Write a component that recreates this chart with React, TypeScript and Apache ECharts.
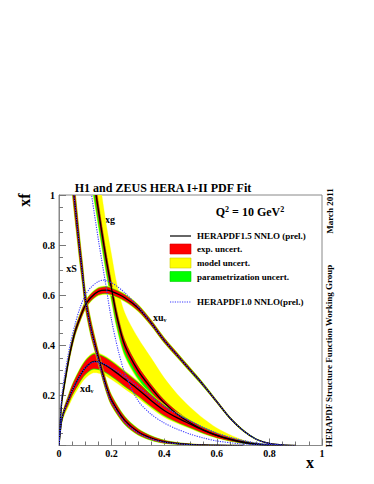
import React, { useEffect, useRef } from "react";
import * as echarts from "echarts";

// ---------------- data ----------------
// xu_v
const X_UV = [0, 0.01, 0.02, 0.04, 0.06, 0.08, 0.1, 0.12, 0.15, 0.18, 0.2, 0.25, 0.3, 0.35, 0.4, 0.45, 0.5, 0.55, 0.6, 0.65, 0.7, 0.75, 0.8, 0.85, 0.9];
const UV_CEN = [0, 0.17, 0.24, 0.36, 0.45, 0.51, 0.56, 0.59, 0.615, 0.62, 0.615, 0.59, 0.55, 0.49, 0.42, 0.36, 0.3, 0.24, 0.175, 0.11, 0.06, 0.025, 0.008, 0.002, 0];
const UV_EXP = [0, 0.008, 0.01, 0.012, 0.012, 0.012, 0.012, 0.012, 0.012, 0.012, 0.012, 0.011, 0.01, 0.009, 0.008, 0.007, 0.006, 0.005, 0.004, 0.003, 0.002, 0.001, 0.001, 0, 0];
const UV_PAR = [0, 0.01, 0.012, 0.014, 0.014, 0.014, 0.014, 0.014, 0.014, 0.014, 0.014, 0.013, 0.012, 0.011, 0.01, 0.009, 0.008, 0.007, 0.005, 0.004, 0.003, 0.002, 0.001, 0, 0];
const UV_MOD = [0, 0.012, 0.015, 0.017, 0.017, 0.017, 0.017, 0.017, 0.017, 0.017, 0.017, 0.016, 0.015, 0.013, 0.012, 0.011, 0.01, 0.008, 0.006, 0.005, 0.004, 0.002, 0.001, 0, 0];

// xd_v
const X_DV = [0, 0.01, 0.02, 0.035, 0.05, 0.075, 0.1, 0.13, 0.16, 0.2, 0.25, 0.3, 0.35, 0.4, 0.45, 0.5, 0.55, 0.6, 0.65, 0.7, 0.75, 0.8, 0.85];
const DV_CEN = [0, 0.1, 0.14, 0.18, 0.22, 0.27, 0.31, 0.335, 0.33, 0.305, 0.265, 0.225, 0.18, 0.14, 0.11, 0.085, 0.06, 0.04, 0.025, 0.014, 0.006, 0.002, 0];
const DV_EXP = [0, 0.008, 0.011, 0.015, 0.018, 0.022, 0.025, 0.028, 0.028, 0.028, 0.027, 0.025, 0.022, 0.019, 0.016, 0.013, 0.01, 0.008, 0.006, 0.004, 0.002, 0.001, 0];
const DV_PAR = [0, 0.01, 0.013, 0.018, 0.021, 0.025, 0.028, 0.031, 0.031, 0.031, 0.03, 0.028, 0.025, 0.022, 0.018, 0.015, 0.012, 0.009, 0.007, 0.005, 0.003, 0.001, 0];
const DV_MOD_UP = [0, 0.011, 0.015, 0.02, 0.024, 0.029, 0.032, 0.035, 0.035, 0.035, 0.034, 0.032, 0.028, 0.025, 0.021, 0.017, 0.013, 0.01, 0.008, 0.005, 0.003, 0.001, 0];
const DV_MOD_DN = [0, 0.014, 0.02, 0.027, 0.033, 0.038, 0.042, 0.045, 0.044, 0.042, 0.039, 0.035, 0.031, 0.027, 0.022, 0.018, 0.014, 0.011, 0.008, 0.005, 0.003, 0.001, 0];

// xS
const X_S = [0.045, 0.05, 0.057, 0.07, 0.08, 0.09, 0.1, 0.12, 0.14, 0.16, 0.18, 0.2, 0.25, 0.3, 0.35, 0.4, 0.45, 0.5, 0.55, 0.6, 0.7];
const S_CEN = [1.2, 1.08, 1.0, 0.87, 0.77, 0.68, 0.585, 0.475, 0.39, 0.31, 0.235, 0.18, 0.1, 0.055, 0.03, 0.015, 0.008, 0.004, 0.002, 0.001, 0];
const S_EXP = [0.05, 0.05, 0.05, 0.045, 0.04, 0.035, 0.03, 0.026, 0.022, 0.02, 0.018, 0.017, 0.013, 0.01, 0.007, 0.005, 0.003, 0.002, 0.001, 0.001, 0];
const S_PAR = [0.06, 0.06, 0.058, 0.052, 0.047, 0.042, 0.036, 0.031, 0.026, 0.024, 0.022, 0.02, 0.016, 0.012, 0.009, 0.006, 0.004, 0.002, 0.001, 0.001, 0];
const S_MOD = [0.07, 0.07, 0.066, 0.06, 0.054, 0.048, 0.042, 0.036, 0.03, 0.027, 0.025, 0.023, 0.018, 0.014, 0.01, 0.007, 0.004, 0.003, 0.002, 0.001, 0];

// xg
const X_G = [0.125, 0.141, 0.16, 0.18, 0.2, 0.22, 0.25, 0.3, 0.35, 0.4, 0.45, 0.5, 0.55, 0.6, 0.65, 0.7, 0.75, 0.8];
const G_CEN = [1.11, 1.0, 0.87, 0.74, 0.625, 0.515, 0.4, 0.3, 0.23, 0.17, 0.125, 0.09, 0.062, 0.04, 0.024, 0.012, 0.005, 0.001];
const G_EXP = [0.03, 0.03, 0.028, 0.026, 0.024, 0.022, 0.02, 0.017, 0.014, 0.012, 0.01, 0.008, 0.006, 0.004, 0.003, 0.002, 0.001, 0];
const G_PAR_DN = [0.06, 0.06, 0.055, 0.05, 0.045, 0.042, 0.038, 0.032, 0.028, 0.022, 0.018, 0.013, 0.01, 0.007, 0.004, 0.002, 0.001, 0];
const G_MOD_UP = [0.16, 0.16, 0.15, 0.14, 0.135, 0.13, 0.13, 0.13, 0.12, 0.1, 0.08, 0.062, 0.045, 0.03, 0.019, 0.01, 0.004, 0.001];
const G_MOD_DN = [0.07, 0.07, 0.065, 0.06, 0.055, 0.05, 0.045, 0.038, 0.033, 0.026, 0.021, 0.016, 0.012, 0.008, 0.005, 0.003, 0.001, 0];

// HERAPDF1.0 NNLO (blue dotted)
const X_B_UV = [0, 0.01, 0.02, 0.04, 0.06, 0.08, 0.1, 0.12, 0.15, 0.17, 0.2, 0.25, 0.3, 0.35, 0.4, 0.45, 0.5, 0.55, 0.6, 0.65, 0.7, 0.75, 0.8, 0.85, 0.9];
const B_UV = [0, 0.19, 0.27, 0.39, 0.48, 0.55, 0.6, 0.63, 0.655, 0.66, 0.65, 0.61, 0.555, 0.49, 0.42, 0.36, 0.3, 0.24, 0.175, 0.11, 0.06, 0.025, 0.008, 0.002, 0];
const X_B_DV = [0, 0.01, 0.02, 0.035, 0.05, 0.075, 0.1, 0.13, 0.16, 0.2, 0.25, 0.3, 0.35, 0.4, 0.45, 0.5, 0.55, 0.6, 0.65, 0.7, 0.75, 0.8, 0.85];
const B_DV = [0, 0.1, 0.14, 0.18, 0.22, 0.27, 0.31, 0.333, 0.33, 0.31, 0.275, 0.235, 0.195, 0.155, 0.125, 0.097, 0.072, 0.05, 0.033, 0.02, 0.01, 0.004, 0];
const X_B_S = [0.045, 0.05, 0.057, 0.07, 0.08, 0.09, 0.1, 0.12, 0.14, 0.16, 0.18, 0.2, 0.25, 0.3, 0.35, 0.4, 0.45, 0.5, 0.55, 0.6, 0.7];
const B_S = [1.2, 1.08, 1.0, 0.87, 0.77, 0.68, 0.585, 0.47, 0.38, 0.3, 0.225, 0.172, 0.093, 0.05, 0.026, 0.013, 0.007, 0.003, 0.001, 0.0005, 0];
const X_B_G = [0.11, 0.124, 0.15, 0.175, 0.2, 0.225, 0.25, 0.3, 0.35, 0.4, 0.45, 0.5, 0.55, 0.6, 0.7, 0.8];
const B_G = [1.12, 1.0, 0.82, 0.66, 0.5, 0.38, 0.29, 0.18, 0.125, 0.09, 0.065, 0.045, 0.03, 0.018, 0.006, 0.001];

// axis ticks
const X_TICKS = [0, 0.2, 0.4, 0.6, 0.8, 1];
const Y_TICKS = [0.2, 0.4, 0.6, 0.8, 1];

// ---------------- helpers ----------------
const FONT = "'Liberation Serif', 'DejaVu Serif', serif";
const RED = "#ff0000";
const YELLOW = "#ffff00";
const GREEN = "#00ff00";
const BLUE = "#3a3aff";
const SMOOTH = 0.3;

function band(xs: number[], cen: number[], dn: number[], up: number[]) {
  return xs.map((x, i) => [x, cen[i] - dn[i], cen[i] + up[i]]);
}

function bandSeries(data: number[][], color: string) {
  return {
    type: "custom",
    clip: true,
    silent: true,
    data,
    encode: { x: 0, y: [1, 2] },
    renderItem: (params: any, api: any) => {
      if (params.dataIndex !== 0) return null;
      const upper = data.map((d) => api.coord([d[0], d[2]]));
      const lower = data.map((d) => api.coord([d[0], d[1]])).reverse();
      return {
        type: "polygon",
        shape: { points: upper.concat(lower), smooth: SMOOTH },
        style: { fill: color, stroke: color, lineWidth: 0.3 },
      };
    },
  };
}

function lineSeries(xs: number[], ys: number[], color: string, width: number, dash?: number[]) {
  const data = xs.map((x, i) => [x, ys[i]]);
  return {
    type: "custom",
    clip: true,
    silent: true,
    data,
    encode: { x: 0, y: 1 },
    renderItem: (params: any, api: any) => {
      if (params.dataIndex !== 0) return null;
      const pts = data.map((d) => api.coord(d));
      return {
        type: "polyline",
        shape: { points: pts, smooth: SMOOTH },
        style: { stroke: color, lineWidth: width, fill: null, lineDash: dash || null },
      };
    },
  };
}

export default function App() {
  const ref = useRef<HTMLDivElement>(null);
  useEffect(() => {
    if (!ref.current) return;
    const chart = echarts.init(ref.current, undefined, { renderer: "svg" });
    const bold = { fontFamily: FONT, fontWeight: "bold" as const, fill: "#000" };
    const series: any[] = [
      // xg
      bandSeries(band(X_G, G_CEN, G_MOD_DN, G_MOD_UP), YELLOW),
      bandSeries(band(X_G, G_CEN, G_PAR_DN, G_EXP), GREEN),
      bandSeries(band(X_G, G_CEN, G_EXP, G_EXP), RED),
      // xu_v
      bandSeries(band(X_UV, UV_CEN, UV_MOD, UV_MOD), YELLOW),
      bandSeries(band(X_UV, UV_CEN, UV_PAR, UV_PAR), GREEN),
      bandSeries(band(X_UV, UV_CEN, UV_EXP, UV_EXP), RED),
      // xd_v
      bandSeries(band(X_DV, DV_CEN, DV_MOD_DN, DV_MOD_UP), YELLOW),
      bandSeries(band(X_DV, DV_CEN, DV_PAR, DV_PAR), GREEN),
      bandSeries(band(X_DV, DV_CEN, DV_EXP, DV_EXP), RED),
      // xS
      bandSeries(band(X_S, S_CEN, S_MOD, S_MOD), YELLOW),
      bandSeries(band(X_S, S_CEN, S_PAR, S_PAR), GREEN),
      bandSeries(band(X_S, S_CEN, S_EXP, S_EXP), RED),
      // central lines
      lineSeries(X_G, G_CEN, "#000", 1.3),
      lineSeries(X_UV, UV_CEN, "#000", 1.3),
      lineSeries(X_DV, DV_CEN, "#000", 1.3),
      lineSeries(X_S, S_CEN, "#000", 1.3),
      // HERAPDF1.0
      lineSeries(X_B_G, B_G, BLUE, 1.1, [1.2, 1.2]),
      lineSeries(X_B_UV, B_UV, BLUE, 1.1, [1.2, 1.2]),
      lineSeries(X_B_DV, B_DV, BLUE, 1.1, [1.2, 1.2]),
      lineSeries(X_B_S, B_S, BLUE, 1.1, [1.2, 1.2]),
    ];

    const axisCommon = {
      type: "value" as const,
      min: 0,
      max: 1,
      interval: 0.2,
      axisLine: { show: true, onZero: false, lineStyle: { color: "#888", width: 1 } },
      axisTick: { show: true, inside: true, length: 7, lineStyle: { color: "#777" } },
      minorTick: { show: true, splitNumber: 4, length: 4, lineStyle: { color: "#777" } },
      splitLine: { show: false },
    };

    chart.setOption({
      animation: false,
      backgroundColor: "#fff",
      grid: { left: 59, top: 195, right: 52, bottom: 38.5, show: true, borderColor: "#888", borderWidth: 1, backgroundColor: "transparent" },
      xAxis: {
        ...axisCommon,
        axisLabel: {
          fontFamily: FONT, fontWeight: "bold", fontSize: 10, color: "#000", margin: 3,
          formatter: (v: number) => (X_TICKS.some((t) => Math.abs(t - v) < 1e-9) ? String(+v.toFixed(1)) : ""),
        },
      },
      yAxis: {
        ...axisCommon,
        axisLabel: {
          fontFamily: FONT, fontWeight: "bold", fontSize: 10, color: "#000", margin: 4,
          formatter: (v: number) => (Y_TICKS.some((t) => Math.abs(t - v) < 1e-9) ? String(+v.toFixed(1)) : ""),
        },
      },
      series,
      graphic: [
        { type: "text", x: 163, y: 188, style: { ...bold, text: "H1 and ZEUS HERA I+II PDF Fit", fontSize: 12, align: "center", verticalAlign: "middle" } },
        {
          type: "text", x: 250, y: 212,
          style: {
            ...bold, align: "center", verticalAlign: "middle", fontSize: 12,
            text: "{n|Q}{s|2}{n| = 10 GeV}{s|2}",
            rich: {
              n: { fontFamily: FONT, fontWeight: "bold", fontSize: 12, fill: "#000" },
              s: { fontFamily: FONT, fontWeight: "bold", fontSize: 8, fill: "#000", verticalAlign: "top", padding: [0, 0, 6, 0] },
            },
          },
        },
        { type: "text", x: 24, y: 200, rotation: Math.PI / 2, style: { ...bold, text: "xf", fontSize: 16, align: "center", verticalAlign: "middle" } },
        { type: "text", x: 310, y: 462, style: { ...bold, text: "x", fontSize: 16, align: "center", verticalAlign: "middle" } },
        { type: "text", x: 330, y: 211, rotation: Math.PI / 2, style: { ...bold, text: "March 2011", fontSize: 9, align: "center", verticalAlign: "middle" } },
        { type: "text", x: 329, y: 356, rotation: Math.PI / 2, style: { ...bold, text: "HERAPDF Structure Function Working Group", fontSize: 9, align: "center", verticalAlign: "middle" } },
        // legend
        { type: "line", shape: { x1: 170, y1: 236, x2: 191, y2: 236 }, style: { stroke: "#000", lineWidth: 1.2 } },
        { type: "rect", shape: { x: 170, y: 244, width: 21, height: 10 }, style: { fill: RED, stroke: "#c00", lineWidth: 0.6 } },
        { type: "rect", shape: { x: 170, y: 258, width: 21, height: 10 }, style: { fill: YELLOW, stroke: "#cc0", lineWidth: 0.6 } },
        { type: "rect", shape: { x: 170, y: 271.5, width: 21, height: 10 }, style: { fill: GREEN, stroke: "#0c0", lineWidth: 0.6 } },
        { type: "line", shape: { x1: 170, y1: 302, x2: 191, y2: 302 }, style: { stroke: BLUE, lineWidth: 1.1, lineDash: [1.2, 1.2] } },
        { type: "text", x: 197, y: 236, style: { ...bold, text: "HERAPDF1.5 NNLO (prel.)", fontSize: 9, verticalAlign: "middle" } },
        { type: "text", x: 197, y: 249, style: { ...bold, text: "exp. uncert.", fontSize: 9, verticalAlign: "middle" } },
        { type: "text", x: 197, y: 263, style: { ...bold, text: "model uncert.", fontSize: 9, verticalAlign: "middle" } },
        { type: "text", x: 197, y: 276.5, style: { ...bold, text: "parametrization uncert.", fontSize: 9, verticalAlign: "middle" } },
        { type: "text", x: 197, y: 302, style: { ...bold, text: "HERAPDF1.0 NNLO(prel.)", fontSize: 9, verticalAlign: "middle" } },
        // curve labels
        { type: "text", x: 71.5, y: 268, style: { ...bold, text: "xS", fontSize: 10, align: "center", verticalAlign: "middle" } },
        { type: "text", x: 110, y: 219, style: { ...bold, text: "xg", fontSize: 10, align: "center", verticalAlign: "middle" } },
        {
          type: "text", x: 153, y: 317,
          style: {
            ...bold, verticalAlign: "middle", text: "{n|xu}{s|v}",
            rich: { n: { fontFamily: FONT, fontWeight: "bold", fontSize: 10, fill: "#000" }, s: { fontFamily: FONT, fontWeight: "bold", fontSize: 6, fill: "#000", padding: [5, 0, 0, 0] } },
          },
        },
        {
          type: "text", x: 80, y: 388,
          style: {
            ...bold, verticalAlign: "middle", text: "{n|xd}{s|v}",
            rich: { n: { fontFamily: FONT, fontWeight: "bold", fontSize: 10, fill: "#000" }, s: { fontFamily: FONT, fontWeight: "bold", fontSize: 6, fill: "#000", padding: [5, 0, 0, 0] } },
          },
        },
      ],
    });
    return () => chart.dispose();
  }, []);
  return <div ref={ref} style={{ position: "fixed", left: 0, top: 0, width: 374, height: 484, background: "#fff" }} />;
}
